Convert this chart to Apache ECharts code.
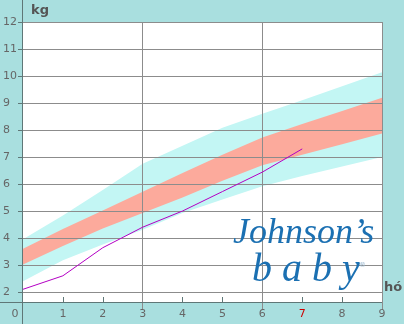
<!DOCTYPE html>
<html><head><meta charset="utf-8">
<script src="https://cdn.jsdelivr.net/npm/echarts@6/dist/echarts.min.js"></script>
<style>html,body{margin:0;padding:0;background:#a9dfdf}#c{width:404px;height:324px}</style>
</head><body><div id="c"></div>
<script>
const months = [0, 1, 2, 3, 4, 5, 6, 7, 8, 9];
const outerHigh = [3.95, 4.83, 5.78, 6.75, 7.42, 8.08, 8.6, 9.1, 9.62, 10.14];
const innerHigh = [3.6, 4.33, 5.02, 5.71, 6.41, 7.08, 7.72, 8.22, 8.7, 9.19];
const innerLow = [3.02, 3.7, 4.35, 4.93, 5.5, 6.12, 6.69, 7.08, 7.47, 7.87];
const outerLow = [2.4, 3.18, 3.76, 4.31, 4.93, 5.43, 5.92, 6.3, 6.65, 7.0];
const babyMonths = [0, 1, 2, 3, 4, 5, 6, 7];
const babyWeight = [2.1, 2.6, 3.64, 4.4, 5.0, 5.72, 6.44, 7.3];
const yTicks = [2, 3, 4, 5, 6, 7, 8, 9, 10, 11, 12];
const xLabels = [0, 1, 2, 3, 4, 5, 6, 7, 8, 9];
const xMinorTicks = [1, 2, 4, 5, 7, 8];
const xMajorTicks = [3, 6, 9];
const currentMonth = 7;

const BG = '#a9dfdf', GRID = '#8c8c8c', AXIS = '#5f7777', TXT = '#666';

function band(upper, lower, color) {
  return {
    type: 'custom', z: 1, clip: true, silent: true,
    data: [0],
    renderItem: function (params, api) {
      const pts = [];
      for (let i = 0; i < months.length; i++) pts.push(api.coord([months[i], upper[i]]));
      for (let i = months.length - 1; i >= 0; i--) pts.push(api.coord([months[i], lower[i]]));
      return { type: 'polygon', shape: { points: pts }, style: { fill: color } };
    }
  };
}

const chart = echarts.init(document.getElementById('c'), null, { renderer: 'canvas' });
chart.setOption({
  backgroundColor: BG,
  animation: false,
  grid: { left: 22, right: 22, top: 22, bottom: 22, show: true, backgroundColor: '#fff', borderWidth: 0 },
  xAxis: [{
    type: 'value', min: 0, max: 9, position: 'bottom', z: 3,
    axisLine: { show: false },
    axisTick: { show: true, customValues: xMinorTicks, inside: true, length: 5, lineStyle: { color: AXIS } },
    axisLabel: {
      customValues: xLabels, margin: 7, fontFamily: 'DejaVu Sans', fontSize: 11,
      color: function (v) { return Number(v) === currentMonth ? '#cc0000' : TXT; },
      formatter: function (v) { return v === 0 ? '{z|0}' : String(v); },
      rich: { z: { padding: [0, 16, 0, 0], fontFamily: 'DejaVu Sans', fontSize: 11, color: TXT } }
    },
    splitLine: { show: false }
  }, {
    type: 'value', min: 0, max: 9, position: 'bottom', z: 3,
    axisLine: { show: false },
    axisTick: { show: true, customValues: xMajorTicks, inside: false, length: 8, lineStyle: { color: GRID } },
    axisLabel: { show: false },
    splitLine: { show: true, lineStyle: { color: GRID, width: 1 } }
  }],
  yAxis: {
    type: 'value', min: 2 - 10 / 27, max: 12, z: 3,
    axisLine: { show: false },
    axisTick: { show: true, customValues: yTicks, length: 5, lineStyle: { color: AXIS } },
    axisLabel: { customValues: yTicks, align: 'left', margin: 20, fontFamily: 'DejaVu Sans', fontSize: 11, color: TXT },
    splitLine: { show: true, lineStyle: { color: GRID, width: 1 } }
  },
  series: [
    band(outerHigh, outerLow, '#c3f6f4'),
    band(innerHigh, innerLow, '#fcaa9c'),
    {
      type: 'line', z: 10, showSymbol: false, silent: true,
      data: babyMonths.map((m, i) => [m, babyWeight[i]]),
      lineStyle: { color: '#b400c4', width: 1 }
    }
  ],
  graphic: [
    { type: 'line', z: 50, shape: { x1: 22.5, y1: 0, x2: 22.5, y2: 324 }, style: { stroke: AXIS, lineWidth: 1 } },
    { type: 'line', z: 50, shape: { x1: 0, y1: 302.5, x2: 382, y2: 302.5 }, style: { stroke: AXIS, lineWidth: 1 } },
    { type: 'text', z: 60, left: 31, top: 4, style: { text: 'kg', font: 'bold 13px "DejaVu Sans"', fill: '#555' } },
    { type: 'text', z: 60, left: 384, top: 281, style: { text: 'hó', font: 'bold 13px "DejaVu Sans"', fill: '#555' } },
    { type: 'text', z: 60, left: 233, top: 216, style: { text: 'Johnson’s', font: 'italic 36px "Liberation Serif"', fill: '#1b70b2' } },
    { type: 'text', z: 60, left: 252, top: 250, style: { text: 'b a b y', font: 'italic 40px "Liberation Serif"', fill: '#1b70b2' } },
    { type: 'text', z: 60, left: 359, top: 262, style: { text: '®', font: '7px "DejaVu Sans"', fill: '#9ab8d0' } }
  ]
});
</script></body></html>
